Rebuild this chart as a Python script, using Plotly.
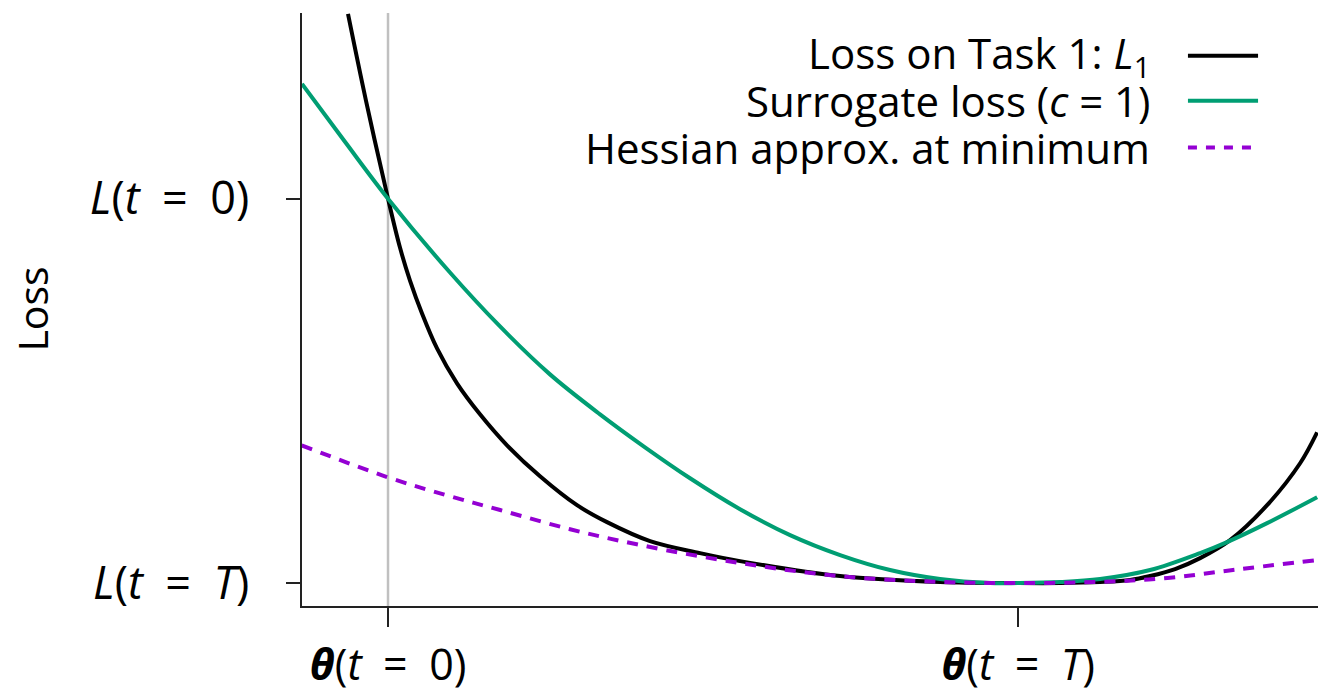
import plotly.graph_objects as go

# ---- data (theta in units where theta(t=0)=0, theta(t=T)=1; loss where L(t=T)=0, L(t=0)=1)
theta_task1 = [-0.0635, -0.0349, 0.0, 0.0190, 0.0349, 0.0540, 0.0778, 0.1095, 0.1460, 0.1889,
               0.2413, 0.3000, 0.3476, 0.4159, 0.4952, 0.5587, 0.7175, 0.8762, 1.0, 1.0667,
               1.1302, 1.1778, 1.2095, 1.2492, 1.2889, 1.3365, 1.3952, 1.4476, 1.4746]
loss_task1 = [1.4805, 1.2545, 1.0, 0.8727, 0.787, 0.7013, 0.6104, 0.5195, 0.439, 0.3584,
              0.2779, 0.2026, 0.1584, 0.1091, 0.0779, 0.0571, 0.0182, 0.0026, 0.0, 0.0,
              0.0026, 0.0078, 0.0182, 0.0364, 0.0649, 0.1117, 0.2026, 0.3117, 0.3922]

theta_surr = [-0.1365, -0.0683, 0.0, 0.0984, 0.1778, 0.2571, 0.3365, 0.4079, 0.4794, 0.5587,
              0.6381, 0.7175, 0.7968, 0.8762, 0.9556, 1.0, 1.0667, 1.1302, 1.2095, 1.2889,
              1.3317, 1.3952, 1.4746]
loss_surr = [1.2987, 1.148, 1.0, 0.8078, 0.6675, 0.5429, 0.439, 0.3532, 0.2727, 0.1922,
             0.1247, 0.0727, 0.0338, 0.0104, 0.0, 0.0, 0.0026, 0.0104, 0.0338, 0.0779,
             0.1065, 0.1558, 0.2234]

theta_hess = [-0.137, 0.0, 0.098, 0.178, 0.289, 0.400, 0.559, 0.717, 0.876, 1.0, 1.130,
              1.237, 1.341, 1.475]
loss_hess = [0.358, 0.275, 0.226, 0.190, 0.140, 0.099, 0.052, 0.018, 0.003, 0.0, 0.003,
             0.013, 0.034, 0.060]

series_names = ["Loss on Task 1: <i>L</i><sub>1</sub>",
                "Surrogate loss (<i>c</i> = 1)",
                "Hessian approx. at minimum"]
EQ = "\u2002=\u2002"
x_tick_vals = [0.0, 1.0]
x_tick_text = ["<b><i>θ</i></b>(<i>t</i>" + EQ + "0)",
               "<b><i>θ</i></b>(<i>t</i>" + EQ + "<i>T</i>)"]
y_tick_vals = [0.0, 1.0]
y_tick_text = ["<i>L</i>(<i>t</i>" + EQ + "<i>T</i>)", "<i>L</i>(<i>t</i>" + EQ + "0)"]

BLACK = "#000000"
GREEN = "#009E73"
PURPLE = "#9400D3"
FONT = "Open Sans"

fig = go.Figure()
fig.add_trace(go.Scatter(x=theta_task1, y=loss_task1, mode="lines",
                         line=dict(color=BLACK, width=4, shape="spline", smoothing=1.0),
                         showlegend=False))
fig.add_trace(go.Scatter(x=theta_surr, y=loss_surr, mode="lines",
                         line=dict(color=GREEN, width=4, shape="spline", smoothing=1.0),
                         showlegend=False))
fig.add_trace(go.Scatter(x=theta_hess, y=loss_hess, mode="lines",
                         line=dict(color=PURPLE, width=4, shape="spline", smoothing=1.0,
                                   dash="11px,9px"),
                         showlegend=False))

# vertical reference at theta(t=0)
fig.add_shape(type="line", xref="x", yref="paper", x0=0, x1=0, y0=0, y1=1,
              line=dict(color="#c0c0c0", width=2.5), layer="below")

# manual legend: text right-aligned, sample line on the right
leg_y = [0.928, 0.852, 0.773]
leg_styles = [dict(color=BLACK, width=4), dict(color=GREEN, width=4),
              dict(color=PURPLE, width=4, dash="9px,9px")]
for name, yy, st in zip(series_names, leg_y, leg_styles):
    fig.add_annotation(xref="paper", yref="paper", x=0.8366, y=yy, text=name,
                       showarrow=False, xanchor="right", yanchor="middle",
                       font=dict(family=FONT, size=42, color="black"))
    fig.add_shape(type="line", xref="paper", yref="paper", x0=0.872, x1=0.941,
                  y0=yy, y1=yy, line=st)

fig.add_annotation(xref="paper", yref="paper", x=-0.2667, y=0.5, text="Loss",
                   textangle=-90, showarrow=False, xanchor="center", yanchor="middle",
                   font=dict(family=FONT, size=41, color="black"))

fig.update_layout(
    width=1326, height=696,
    margin=dict(l=302, r=8, t=13, b=90, autoexpand=False),
    paper_bgcolor="white", plot_bgcolor="white",
    font=dict(family=FONT, color="black"),
    xaxis=dict(range=[-0.1365, 1.476], showgrid=False, zeroline=False, automargin=False,
               showline=True, linecolor="#222", linewidth=1.5,
               ticks="outside", ticklen=19, tickwidth=1.5, tickcolor="#222",
               tickvals=x_tick_vals, ticktext=x_tick_text,
               tickfont=dict(family=FONT, size=43, color="black"),
               ticklabelstandoff=2),
    yaxis=dict(range=[-0.0597, 1.483], showgrid=False, zeroline=False, automargin=False,
               showline=True, linecolor="#222", linewidth=1.5,
               ticks="outside", ticklen=14, tickwidth=1.5, tickcolor="#222",
               tickvals=y_tick_vals, ticktext=y_tick_text,
               tickfont=dict(family=FONT, size=45, color="black"),
               ticklabelstandoff=28),
)

fig.write_html("out.html")
